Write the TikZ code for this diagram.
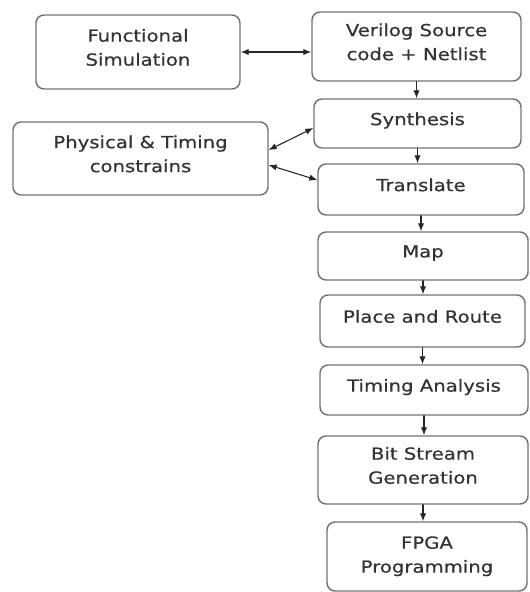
\documentclass[tikz,border=0pt]{standalone}
\usepackage{fontspec}
\setmainfont[FakeStretch=1.18, FakeBold=0.6]{DejaVu Sans}
\usetikzlibrary{arrows.meta}
\begin{document}
\begin{tikzpicture}[x=0.75pt, y=0.75pt, line join=round, line cap=round, >={Latex[length=6pt,width=4.8pt]},
	stage/.style={draw=black!55, line width=1.1pt, rounded corners=6pt, align=center, inner sep=0pt,
		text=black!80, text depth=7pt, font=\fontsize{12.5}{18}\selectfont},
	flow/.style={->, line width=0.8pt, draw=black!85},
	twoway/.style={flow, <->}]
	\useasboundingbox (0,0) rectangle (529,-592);
	% left column
	\node[stage, minimum width=153pt, minimum height=55.5pt] (func) at (138,-52) {Functional\\Simulation};
	\node[stage, minimum width=191.25pt, minimum height=54.75pt] (phys) at (140.5,-158.5) {Physical \& Timing\\constrains};
	% design flow
	\node[stage, minimum width=156.75pt, minimum height=51.75pt] (verilog) at (416.5,-46.5) {Verilog Source\\code + Netlist};
	\node[stage, minimum width=155.25pt, minimum height=36.75pt] (synth) at (417.5,-123.5) {Synthesis};
	\node[stage, minimum width=154.5pt, minimum height=38.25pt] (trans) at (421,-189.5) {Translate};
	\node[stage, minimum width=157.5pt, minimum height=36pt] (map) at (423,-256) {Map};
	\node[stage, minimum width=153.75pt, minimum height=39pt] (par) at (422.5,-321) {Place and Route};
	\node[stage, minimum width=156pt, minimum height=37.5pt] (timing) at (424,-390) {Timing Analysis};
	\node[stage, minimum width=157.5pt, minimum height=51pt] (bit) at (423,-470) {Bit Stream\\Generation};
	\node[stage, minimum width=150pt, minimum height=51.75pt, text depth=3pt] (fpga) at (427,-556.5) {FPGA\\Programming};
	% connections
	\draw[twoway] (func.east) -- (func.east -| verilog.west);
	\draw[twoway] ([yshift=6.4pt]phys.east) -- ([yshift=-3.4pt]synth.west);
	\draw[twoway] ([yshift=-4.9pt]phys.east) -- ([yshift=7.1pt]trans.west);
	\foreach \a/\b in {verilog/synth, synth/trans, trans/map, map/par, par/timing, timing/bit, bit/fpga}
		\draw[flow] (\a.south) -- (\a.south |- \b.north);
\end{tikzpicture}
\end{document}
